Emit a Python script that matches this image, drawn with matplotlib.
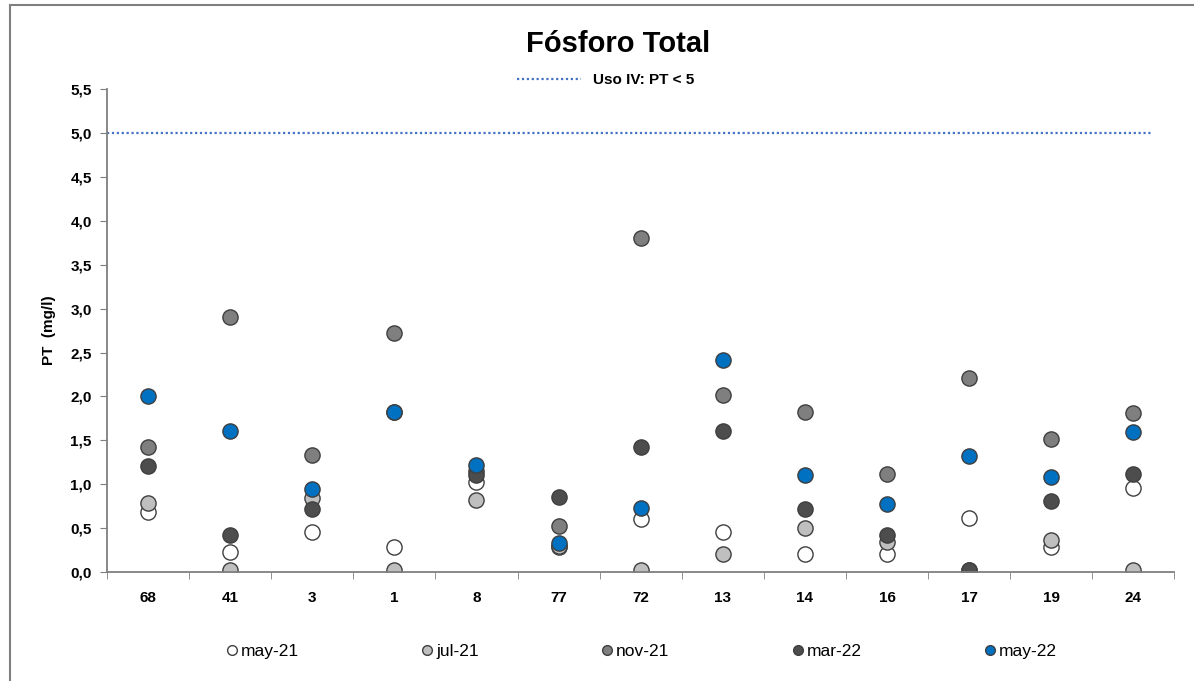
import matplotlib.pyplot as plt
from matplotlib.patches import Rectangle
from matplotlib.lines import Line2D

# estaciones y campañas
estaciones = ['68', '41', '3', '1', '8', '77', '72', '13', '14', '16', '17', '19', '24']
campanas = ['may-21', 'jul-21', 'nov-21', 'mar-22', 'may-22']

may21 = [0.68, 0.23, 0.46, 0.29, 1.03, 0.28, 0.60, 0.46, 0.21, 0.21, 0.62, 0.29, 0.96]
jul21 = [0.79, 0.02, 0.84, 0.02, 0.82, 0.30, 0.02, 0.21, 0.50, 0.34, 0.02, 0.36, 0.02]
nov21 = [1.42, 2.91, 1.33, 2.72, 1.15, 0.53, 3.81, 2.02, 1.82, 1.12, 2.21, 1.51, 1.81]
mar22 = [1.21, 0.42, 0.72, 1.82, 1.10, 0.86, 1.42, 1.61, 0.72, 0.42, 0.02, 0.81, 1.12]
may22 = [2.00, 1.61, 0.95, 1.82, 1.22, 0.33, 0.73, 2.42, 1.11, 0.78, 1.32, 1.08, 1.60]

limite = 5.0
colores = ['#FFFFFF', '#BFBFBF', '#7F7F7F', '#4D4D4D', '#0070C0']

plt.rcParams['font.family'] = ['Liberation Sans', 'DejaVu Sans']

fig = plt.figure(figsize=(11.94, 6.81), dpi=100)
fig.patches.append(Rectangle((0.008, -0.01), 1.0, 1.002, transform=fig.transFigure,
                             fill=False, edgecolor='#7F7F7F', linewidth=1.5))
ax = fig.add_axes([0.0896, 0.160, 0.894, 0.709])

x = list(range(len(estaciones)))
series = [may21, jul21, nov21, mar22, may22]
for i, (nombre, vals) in enumerate(zip(campanas, series)):
    ax.scatter(x, vals, s=120, c=colores[i], edgecolors='#3F3F3F', linewidths=1.0,
               zorder=3 + i, label=nombre)

ax.axhline(limite, xmax=0.978, color='#4472C4', linestyle=(0, (1, 1.2)), linewidth=1.6, zorder=2)

ax.set_xlim(-0.5, len(estaciones) - 0.5)
ax.set_ylim(0, 5.5)
ax.set_yticks([i * 0.5 for i in range(12)])
ax.set_yticklabels([('%.1f' % (i * 0.5)).replace('.', ',') for i in range(12)],
                   fontsize=11, fontweight='bold')
ax.set_xticks(x)
ax.set_xticklabels(estaciones, fontsize=11, fontweight='bold')
ax.set_xticks([i + 0.5 for i in range(-1, len(estaciones))], minor=True)
ax.tick_params(axis='x', which='major', length=0, pad=14)
ax.tick_params(axis='x', which='minor', length=5, direction='out', color='#7F7F7F')
ax.tick_params(axis='y', length=5, direction='out', color='#7F7F7F', pad=6)

for s in ['top', 'right']:
    ax.spines[s].set_visible(False)
for s in ['left', 'bottom']:
    ax.spines[s].set_color('#7F7F7F')
    ax.spines[s].set_linewidth(1.3)
ax.spines['bottom'].set_zorder(10)

ax.set_ylabel('PT  (mg/l)', fontsize=11, fontweight='bold', labelpad=10)

fig.text(0.518, 0.936, 'Fósforo Total', ha='center', va='center', fontsize=21,
         fontweight='bold')

# leyenda superior (límite)
h_lim = Line2D([], [], color='#4472C4', linestyle=(0, (1, 1.2)), linewidth=1.6)
fig.legend([h_lim], ['Uso IV: PT < 5'], loc='center', bbox_to_anchor=(0.507, 0.882),
           frameon=False, prop={'weight': 'bold', 'size': 11}, handlelength=4.2)

# leyenda inferior (campañas)
handles = [Line2D([], [], marker='o', linestyle='', markersize=7, markerfacecolor=c,
                  markeredgecolor='#3F3F3F', markeredgewidth=1.0) for c in colores]
fig.legend(handles, campanas, loc='center', bbox_to_anchor=(0.536, 0.043), ncol=5,
           frameon=False, fontsize=12.5, handletextpad=0.0, columnspacing=6.9,
           handlelength=1.0)

fig.savefig('out.png', dpi=100)
